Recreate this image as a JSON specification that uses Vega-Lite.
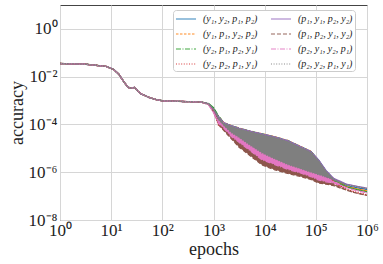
{
"$schema": "https://vega.github.io/schema/vega-lite/v6.json",
"width": 307, "height": 215,
"autosize": {"type": "none"},
"padding": {"left": 60, "top": 5, "right": 16, "bottom": 44},
"background": "white",
"config": {"view": {"stroke": "#444", "strokeWidth": 1}, "font": "Liberation Serif"},
"data": {"values": [
{"s":"a","x":1,"lo":0.0355,"hi":0.0355},{"s":"a","x":3.162,"lo":0.0331,"hi":0.0331},{"s":"a","x":7.943,"lo":0.0269,"hi":0.0269},{"s":"a","x":11.22,"lo":0.02,"hi":0.02},{"s":"a","x":14.13,"lo":0.0126,"hi":0.0126},{"s":"a","x":17.78,"lo":0.00603,"hi":0.00603},{"s":"a","x":21.38,"lo":0.00355,"hi":0.00355},{"s":"a","x":25.12,"lo":0.00331,"hi":0.00331},{"s":"a","x":28.84,"lo":0.00355,"hi":0.00355},{"s":"a","x":33.11,"lo":0.00251,"hi":0.00251},{"s":"a","x":38.02,"lo":0.00191,"hi":0.00191},{"s":"a","x":44.67,"lo":0.00166,"hi":0.00166},{"s":"a","x":56.23,"lo":0.00132,"hi":0.00132},{"s":"a","x":75.86,"lo":0.0011,"hi":0.0011},{"s":"a","x":100,"lo":0.000977,"hi":0.000977},{"s":"a","x":251.2,"lo":0.000912,"hi":0.000912},{"s":"a","x":562.3,"lo":0.000871,"hi":0.000871},
{"s":"a","x":794.3,"lo":7.24e-4,"hi":7.24e-4},{"s":"a","x":1000,"lo":4.68e-4,"hi":4.68e-4},{"s":"a","x":1259,"lo":1.58e-4,"hi":2.09e-4},{"s":"a","x":1585,"lo":8.91e-5,"hi":1.17e-4},{"s":"a","x":2239,"lo":4.47e-5,"hi":8.71e-5},{"s":"a","x":3162,"lo":2.82e-5,"hi":6.92e-5},{"s":"a","x":5012,"lo":1.41e-5,"hi":5.25e-5},{"s":"a","x":8913,"lo":6.31e-6,"hi":3.98e-5},{"s":"a","x":15849,"lo":3.55e-6,"hi":2.95e-5},{"s":"a","x":28184,"lo":2.09e-6,"hi":2.09e-5},{"s":"a","x":50119,"lo":1.41e-6,"hi":1.17e-5},{"s":"a","x":79433,"lo":1.0e-6,"hi":7.41e-6},{"s":"a","x":112202,"lo":7.94e-7,"hi":3.31e-6},{"s":"a","x":158489,"lo":6.31e-7,"hi":1.12e-6},{"s":"a","x":223872,"lo":4.57e-7,"hi":5.01e-7},{"s":"a","x":398107,"lo":2.75e-7,"hi":2.75e-7},{"s":"a","x":630957,"lo":2.24e-7,"hi":2.24e-7},{"s":"a","x":1000000,"lo":1.91e-7,"hi":1.91e-7},
{"s":"b","x":1,"lo":0.0355,"hi":0.0355},{"s":"b","x":3.162,"lo":0.0331,"hi":0.0331},{"s":"b","x":7.943,"lo":0.0269,"hi":0.0269},{"s":"b","x":11.22,"lo":0.02,"hi":0.02},{"s":"b","x":14.13,"lo":0.0126,"hi":0.0126},{"s":"b","x":17.78,"lo":0.00603,"hi":0.00603},{"s":"b","x":21.38,"lo":0.00355,"hi":0.00355},{"s":"b","x":25.12,"lo":0.00331,"hi":0.00331},{"s":"b","x":28.84,"lo":0.00355,"hi":0.00355},{"s":"b","x":33.11,"lo":0.00251,"hi":0.00251},{"s":"b","x":38.02,"lo":0.00191,"hi":0.00191},{"s":"b","x":44.67,"lo":0.00166,"hi":0.00166},{"s":"b","x":56.23,"lo":0.00132,"hi":0.00132},{"s":"b","x":75.86,"lo":0.0011,"hi":0.0011},{"s":"b","x":100,"lo":0.000977,"hi":0.000977},{"s":"b","x":251.2,"lo":0.000912,"hi":0.000912},{"s":"b","x":562.3,"lo":0.000871,"hi":0.000871},
{"s":"b","x":794.3,"lo":7.24e-4,"hi":7.24e-4},{"s":"b","x":1000,"lo":4.47e-4,"hi":4.47e-4},{"s":"b","x":1259,"lo":1.58e-4,"hi":2.14e-4},{"s":"b","x":1585,"lo":8.91e-5,"hi":1.2e-4},{"s":"b","x":2239,"lo":4.47e-5,"hi":8.91e-5},{"s":"b","x":3162,"lo":2.82e-5,"hi":7.08e-5},{"s":"b","x":5012,"lo":1.41e-5,"hi":5.37e-5},{"s":"b","x":8913,"lo":6.31e-6,"hi":4.07e-5},{"s":"b","x":15849,"lo":3.55e-6,"hi":3.02e-5},{"s":"b","x":28184,"lo":2.09e-6,"hi":2.14e-5},{"s":"b","x":50119,"lo":1.41e-6,"hi":1.2e-5},{"s":"b","x":79433,"lo":1.0e-6,"hi":7.59e-6},{"s":"b","x":112202,"lo":7.94e-7,"hi":3.16e-6},{"s":"b","x":158489,"lo":6.31e-7,"hi":1.05e-6},{"s":"b","x":223872,"lo":4.37e-7,"hi":4.79e-7},{"s":"b","x":398107,"lo":2.51e-7,"hi":2.51e-7},{"s":"b","x":630957,"lo":2.0e-7,"hi":2.0e-7},{"s":"b","x":1000000,"lo":1.66e-7,"hi":1.66e-7},
{"s":"c","x":1,"lo":0.0355,"hi":0.0355},{"s":"c","x":3.162,"lo":0.0331,"hi":0.0331},{"s":"c","x":7.943,"lo":0.0269,"hi":0.0269},{"s":"c","x":11.22,"lo":0.02,"hi":0.02},{"s":"c","x":14.13,"lo":0.0126,"hi":0.0126},{"s":"c","x":17.78,"lo":0.00603,"hi":0.00603},{"s":"c","x":21.38,"lo":0.00355,"hi":0.00355},{"s":"c","x":25.12,"lo":0.00331,"hi":0.00331},{"s":"c","x":28.84,"lo":0.00355,"hi":0.00355},{"s":"c","x":33.11,"lo":0.00251,"hi":0.00251},{"s":"c","x":38.02,"lo":0.00191,"hi":0.00191},{"s":"c","x":44.67,"lo":0.00166,"hi":0.00166},{"s":"c","x":56.23,"lo":0.00132,"hi":0.00132},{"s":"c","x":75.86,"lo":0.0011,"hi":0.0011},{"s":"c","x":100,"lo":0.000977,"hi":0.000977},{"s":"c","x":251.2,"lo":0.000912,"hi":0.000912},{"s":"c","x":562.3,"lo":0.000871,"hi":0.000871},
{"s":"c","x":794.3,"lo":7.59e-4,"hi":7.59e-4},{"s":"c","x":1000,"lo":5.01e-4,"hi":5.01e-4},{"s":"c","x":1259,"lo":1.58e-4,"hi":2.24e-4},{"s":"c","x":1585,"lo":8.91e-5,"hi":1.17e-4},{"s":"c","x":2239,"lo":4.47e-5,"hi":8.71e-5},{"s":"c","x":3162,"lo":2.82e-5,"hi":6.92e-5},{"s":"c","x":5012,"lo":1.41e-5,"hi":5.25e-5},{"s":"c","x":8913,"lo":6.31e-6,"hi":3.98e-5},{"s":"c","x":15849,"lo":3.55e-6,"hi":2.95e-5},{"s":"c","x":28184,"lo":2.09e-6,"hi":2.09e-5},{"s":"c","x":50119,"lo":1.41e-6,"hi":1.17e-5},{"s":"c","x":79433,"lo":1.0e-6,"hi":7.41e-6},{"s":"c","x":112202,"lo":7.59e-7,"hi":3.16e-6},{"s":"c","x":158489,"lo":6.03e-7,"hi":1.0e-6},{"s":"c","x":223872,"lo":4.17e-7,"hi":4.68e-7},{"s":"c","x":398107,"lo":2.4e-7,"hi":2.4e-7},{"s":"c","x":630957,"lo":1.86e-7,"hi":1.86e-7},{"s":"c","x":1000000,"lo":1.51e-7,"hi":1.51e-7},
{"s":"d","x":1,"lo":0.0355,"hi":0.0355},{"s":"d","x":3.162,"lo":0.0331,"hi":0.0331},{"s":"d","x":7.943,"lo":0.0269,"hi":0.0269},{"s":"d","x":11.22,"lo":0.02,"hi":0.02},{"s":"d","x":14.13,"lo":0.0126,"hi":0.0126},{"s":"d","x":17.78,"lo":0.00603,"hi":0.00603},{"s":"d","x":21.38,"lo":0.00355,"hi":0.00355},{"s":"d","x":25.12,"lo":0.00331,"hi":0.00331},{"s":"d","x":28.84,"lo":0.00355,"hi":0.00355},{"s":"d","x":33.11,"lo":0.00251,"hi":0.00251},{"s":"d","x":38.02,"lo":0.00191,"hi":0.00191},{"s":"d","x":44.67,"lo":0.00166,"hi":0.00166},{"s":"d","x":56.23,"lo":0.00132,"hi":0.00132},{"s":"d","x":75.86,"lo":0.0011,"hi":0.0011},{"s":"d","x":100,"lo":0.000977,"hi":0.000977},{"s":"d","x":251.2,"lo":0.000912,"hi":0.000912},{"s":"d","x":562.3,"lo":0.000871,"hi":0.000871},
{"s":"d","x":794.3,"lo":7.08e-4,"hi":7.08e-4},{"s":"d","x":1000,"lo":3.55e-4,"hi":3.55e-4},{"s":"d","x":1259,"lo":8.91e-5,"hi":1.91e-4},{"s":"d","x":1585,"lo":6.31e-5,"hi":1.12e-4},{"s":"d","x":2239,"lo":3.98e-5,"hi":7.94e-5},{"s":"d","x":3162,"lo":2.51e-5,"hi":6.31e-5},{"s":"d","x":5012,"lo":1.41e-5,"hi":4.79e-5},{"s":"d","x":8913,"lo":6.31e-6,"hi":3.72e-5},{"s":"d","x":15849,"lo":3.55e-6,"hi":2.75e-5},{"s":"d","x":28184,"lo":2.09e-6,"hi":1.95e-5},{"s":"d","x":50119,"lo":1.41e-6,"hi":1.1e-5},{"s":"d","x":79433,"lo":1.0e-6,"hi":6.92e-6},{"s":"d","x":112202,"lo":7.08e-7,"hi":2.82e-6},{"s":"d","x":158489,"lo":5.01e-7,"hi":8.91e-7},{"s":"d","x":223872,"lo":3.55e-7,"hi":3.98e-7},{"s":"d","x":398107,"lo":1.91e-7,"hi":1.91e-7},{"s":"d","x":630957,"lo":1.41e-7,"hi":1.41e-7},{"s":"d","x":1000000,"lo":1.12e-7,"hi":1.12e-7},
{"s":"e","x":1,"lo":0.0355,"hi":0.0355},{"s":"e","x":3.162,"lo":0.0331,"hi":0.0331},{"s":"e","x":7.943,"lo":0.0269,"hi":0.0269},{"s":"e","x":11.22,"lo":0.02,"hi":0.02},{"s":"e","x":14.13,"lo":0.0126,"hi":0.0126},{"s":"e","x":17.78,"lo":0.00603,"hi":0.00603},{"s":"e","x":21.38,"lo":0.00355,"hi":0.00355},{"s":"e","x":25.12,"lo":0.00331,"hi":0.00331},{"s":"e","x":28.84,"lo":0.00355,"hi":0.00355},{"s":"e","x":33.11,"lo":0.00251,"hi":0.00251},{"s":"e","x":38.02,"lo":0.00191,"hi":0.00191},{"s":"e","x":44.67,"lo":0.00166,"hi":0.00166},{"s":"e","x":56.23,"lo":0.00132,"hi":0.00132},{"s":"e","x":75.86,"lo":0.0011,"hi":0.0011},{"s":"e","x":100,"lo":0.000977,"hi":0.000977},{"s":"e","x":251.2,"lo":0.000912,"hi":0.000912},{"s":"e","x":562.3,"lo":0.000871,"hi":0.000871},
{"s":"e","x":794.3,"lo":7.41e-4,"hi":7.41e-4},{"s":"e","x":1000,"lo":4.17e-4,"hi":4.17e-4},{"s":"e","x":1259,"lo":1.58e-4,"hi":2.04e-4},{"s":"e","x":1585,"lo":8.91e-5,"hi":1.17e-4},{"s":"e","x":2239,"lo":4.47e-5,"hi":8.71e-5},{"s":"e","x":3162,"lo":2.82e-5,"hi":6.92e-5},{"s":"e","x":5012,"lo":1.41e-5,"hi":5.25e-5},{"s":"e","x":8913,"lo":6.31e-6,"hi":3.98e-5},{"s":"e","x":15849,"lo":3.55e-6,"hi":2.95e-5},{"s":"e","x":28184,"lo":2.09e-6,"hi":2.09e-5},{"s":"e","x":50119,"lo":1.41e-6,"hi":1.17e-5},{"s":"e","x":79433,"lo":1.0e-6,"hi":7.41e-6},{"s":"e","x":112202,"lo":7.94e-7,"hi":3.31e-6},{"s":"e","x":158489,"lo":6.31e-7,"hi":1.17e-6},{"s":"e","x":223872,"lo":5.01e-7,"hi":5.5e-7},{"s":"e","x":398107,"lo":3.16e-7,"hi":3.16e-7},{"s":"e","x":630957,"lo":2.57e-7,"hi":2.57e-7},{"s":"e","x":1000000,"lo":2.14e-7,"hi":2.14e-7},
{"s":"f","x":1,"lo":0.0355,"hi":0.0355},{"s":"f","x":3.162,"lo":0.0331,"hi":0.0331},{"s":"f","x":7.943,"lo":0.0269,"hi":0.0269},{"s":"f","x":11.22,"lo":0.02,"hi":0.02},{"s":"f","x":14.13,"lo":0.0126,"hi":0.0126},{"s":"f","x":17.78,"lo":0.00603,"hi":0.00603},{"s":"f","x":21.38,"lo":0.00355,"hi":0.00355},{"s":"f","x":25.12,"lo":0.00331,"hi":0.00331},{"s":"f","x":28.84,"lo":0.00355,"hi":0.00355},{"s":"f","x":33.11,"lo":0.00251,"hi":0.00251},{"s":"f","x":38.02,"lo":0.00191,"hi":0.00191},{"s":"f","x":44.67,"lo":0.00166,"hi":0.00166},{"s":"f","x":56.23,"lo":0.00132,"hi":0.00132},{"s":"f","x":75.86,"lo":0.0011,"hi":0.0011},{"s":"f","x":100,"lo":0.000977,"hi":0.000977},{"s":"f","x":251.2,"lo":0.000912,"hi":0.000912},{"s":"f","x":562.3,"lo":0.000871,"hi":0.000871},
{"s":"f","x":794.3,"lo":6.92e-4,"hi":6.92e-4},{"s":"f","x":1000,"lo":3.55e-4,"hi":3.55e-4},{"s":"f","x":1259,"lo":1.0e-4,"hi":1.41e-4},{"s":"f","x":1585,"lo":5.62e-5,"hi":7.94e-5},{"s":"f","x":2239,"lo":2.51e-5,"hi":3.98e-5},{"s":"f","x":3162,"lo":1.12e-5,"hi":2.24e-5},{"s":"f","x":5012,"lo":5.25e-6,"hi":1.12e-5},{"s":"f","x":8913,"lo":2.0e-6,"hi":4.47e-6},{"s":"f","x":15849,"lo":1.26e-6,"hi":2.51e-6},{"s":"f","x":28184,"lo":8.91e-7,"hi":1.58e-6},{"s":"f","x":50119,"lo":6.61e-7,"hi":1.05e-6},{"s":"f","x":79433,"lo":5.01e-7,"hi":7.94e-7},{"s":"f","x":112202,"lo":3.55e-7,"hi":5.62e-7},{"s":"f","x":158489,"lo":3.16e-7,"hi":4.47e-7},{"s":"f","x":223872,"lo":2.75e-7,"hi":3.16e-7},{"s":"f","x":398107,"lo":1.78e-7,"hi":1.78e-7},{"s":"f","x":630957,"lo":1.32e-7,"hi":1.32e-7},{"s":"f","x":1000000,"lo":1.07e-7,"hi":1.07e-7},
{"s":"g","x":1,"lo":0.0355,"hi":0.0355},{"s":"g","x":3.162,"lo":0.0331,"hi":0.0331},{"s":"g","x":7.943,"lo":0.0269,"hi":0.0269},{"s":"g","x":11.22,"lo":0.02,"hi":0.02},{"s":"g","x":14.13,"lo":0.0126,"hi":0.0126},{"s":"g","x":17.78,"lo":0.00603,"hi":0.00603},{"s":"g","x":21.38,"lo":0.00355,"hi":0.00355},{"s":"g","x":25.12,"lo":0.00331,"hi":0.00331},{"s":"g","x":28.84,"lo":0.00355,"hi":0.00355},{"s":"g","x":33.11,"lo":0.00251,"hi":0.00251},{"s":"g","x":38.02,"lo":0.00191,"hi":0.00191},{"s":"g","x":44.67,"lo":0.00166,"hi":0.00166},{"s":"g","x":56.23,"lo":0.00132,"hi":0.00132},{"s":"g","x":75.86,"lo":0.0011,"hi":0.0011},{"s":"g","x":100,"lo":0.000977,"hi":0.000977},{"s":"g","x":251.2,"lo":0.000912,"hi":0.000912},{"s":"g","x":562.3,"lo":0.000871,"hi":0.000871},
{"s":"g","x":794.3,"lo":6.92e-4,"hi":6.92e-4},{"s":"g","x":1000,"lo":3.16e-4,"hi":3.16e-4},{"s":"g","x":1259,"lo":1.12e-4,"hi":1.41e-4},{"s":"g","x":1585,"lo":7.08e-5,"hi":1.12e-4},{"s":"g","x":2239,"lo":3.16e-5,"hi":5.01e-5},{"s":"g","x":3162,"lo":1.78e-5,"hi":3.16e-5},{"s":"g","x":5012,"lo":8.51e-6,"hi":1.58e-5},{"s":"g","x":8913,"lo":3.31e-6,"hi":6.61e-6},{"s":"g","x":15849,"lo":2.09e-6,"hi":3.8e-6},{"s":"g","x":28184,"lo":1.32e-6,"hi":2.24e-6},{"s":"g","x":50119,"lo":9.33e-7,"hi":1.48e-6},{"s":"g","x":79433,"lo":6.61e-7,"hi":1.05e-6},{"s":"g","x":112202,"lo":4.79e-7,"hi":7.94e-7},{"s":"g","x":158489,"lo":3.98e-7,"hi":6.03e-7},{"s":"g","x":223872,"lo":3.55e-7,"hi":4.17e-7},{"s":"g","x":398107,"lo":2.24e-7,"hi":2.24e-7},{"s":"g","x":630957,"lo":1.7e-7,"hi":1.7e-7},{"s":"g","x":1000000,"lo":1.38e-7,"hi":1.38e-7},
{"s":"h","x":1,"lo":0.0355,"hi":0.0355},{"s":"h","x":3.162,"lo":0.0331,"hi":0.0331},{"s":"h","x":7.943,"lo":0.0269,"hi":0.0269},{"s":"h","x":11.22,"lo":0.02,"hi":0.02},{"s":"h","x":14.13,"lo":0.0126,"hi":0.0126},{"s":"h","x":17.78,"lo":0.00603,"hi":0.00603},{"s":"h","x":21.38,"lo":0.00355,"hi":0.00355},{"s":"h","x":25.12,"lo":0.00331,"hi":0.00331},{"s":"h","x":28.84,"lo":0.00355,"hi":0.00355},{"s":"h","x":33.11,"lo":0.00251,"hi":0.00251},{"s":"h","x":38.02,"lo":0.00191,"hi":0.00191},{"s":"h","x":44.67,"lo":0.00166,"hi":0.00166},{"s":"h","x":56.23,"lo":0.00132,"hi":0.00132},{"s":"h","x":75.86,"lo":0.0011,"hi":0.0011},{"s":"h","x":100,"lo":0.000977,"hi":0.000977},{"s":"h","x":251.2,"lo":0.000912,"hi":0.000912},{"s":"h","x":562.3,"lo":0.000871,"hi":0.000871},
{"s":"h","x":794.3,"lo":7.24e-4,"hi":7.24e-4},{"s":"h","x":1000,"lo":4.37e-4,"hi":4.37e-4},{"s":"h","x":1259,"lo":1.58e-4,"hi":2.0e-4},{"s":"h","x":1585,"lo":8.91e-5,"hi":1.12e-4},{"s":"h","x":2239,"lo":4.47e-5,"hi":8.32e-5},{"s":"h","x":3162,"lo":2.82e-5,"hi":6.61e-5},{"s":"h","x":5012,"lo":1.41e-5,"hi":5.01e-5},{"s":"h","x":8913,"lo":6.31e-6,"hi":3.8e-5},{"s":"h","x":15849,"lo":3.55e-6,"hi":2.82e-5},{"s":"h","x":28184,"lo":2.09e-6,"hi":2.0e-5},{"s":"h","x":50119,"lo":1.41e-6,"hi":1.12e-5},{"s":"h","x":79433,"lo":1.0e-6,"hi":7.08e-6},{"s":"h","x":112202,"lo":7.94e-7,"hi":3.16e-6},{"s":"h","x":158489,"lo":6.31e-7,"hi":1.12e-6},{"s":"h","x":223872,"lo":4.79e-7,"hi":5.25e-7},{"s":"h","x":398107,"lo":3.02e-7,"hi":3.02e-7},{"s":"h","x":630957,"lo":2.51e-7,"hi":2.51e-7},{"s":"h","x":1000000,"lo":2.09e-7,"hi":2.09e-7}
]},
"encoding": {
  "x": {"field": "x", "type": "quantitative",
    "scale": {"type": "log", "domain": [1, 1000000], "nice": false},
    "axis": {"values": [1, 10, 100, 1000, 10000, 100000, 1000000],
      "labelExpr": "'10' + ['⁰','¹','²','³','⁴','⁵','⁶'][round(log(datum.value)/LN10)]",
      "title": "epochs", "grid": true, "gridColor": "#d6d6d6", "ticks": false, "domain": false,
      "labelOverlap": false, "labelFlush": false,
      "labelFont": "Liberation Serif", "labelFontSize": 17, "labelPadding": 2, "labelColor": "#222",
      "titleFont": "Liberation Serif", "titleFontSize": 18, "titleFontWeight": "normal", "titlePadding": 2, "titleColor": "#222"}},
  "y": {"field": "hi", "type": "quantitative",
    "scale": {"type": "log", "domain": [1e-8, 10], "nice": false},
    "axis": {"values": [1e-8, 1e-6, 1e-4, 1e-2, 1],
      "labelExpr": "'10' + (datum.value < 0.5 ? '⁻' : '') + ['⁰','¹','²','³','⁴','⁵','⁶','⁷','⁸'][abs(round(log(datum.value)/LN10))]",
      "title": "accuracy", "grid": true, "gridColor": "#d6d6d6", "ticks": false, "domain": false,
      "labelOverlap": false, "labelFlush": false,
      "labelFont": "Liberation Serif", "labelFontSize": 17, "labelPadding": 3, "labelColor": "#222",
      "titleFont": "Liberation Serif", "titleFontSize": 18, "titleFontWeight": "normal", "titlePadding": 2, "titleColor": "#222"}}
},
"layer": [
  {"mark": {"type": "area", "opacity": 1, "strokeWidth": 1.3,
     "strokeDash": {"expr": "datum.s=='b'?[2.5,1.5]:(datum.s=='c'||datum.s=='g')?[5,1.5,1,1.5]:(datum.s=='d'||datum.s=='h')?[1,1.6]:datum.s=='f'?[4,2]:[1,0]"}},
   "encoding": {
     "y2": {"field": "lo"},
     "fill": {"field": "s", "type": "nominal", "legend": null,
       "scale": {"domain": ["h","g","f","e","d","c","b","a"], "range": ["#7f7f7f","#e377c2","#8c564b","#9467bd","#d62728","#2ca02c","#ff7f0e","#1f77b4"]}},
     "stroke": {"field": "s", "type": "nominal", "legend": null,
       "scale": {"domain": ["h","g","f","e","d","c","b","a"], "range": ["#7f7f7f","#e377c2","#8c564b","#9467bd","#d62728","#2ca02c","#ff7f0e","#1f77b4"]}}
   }},
  {"mark": {"type": "line", "strokeOpacity": 0, "strokeWidth": 1.5},
   "encoding": {
     "color": {"field": "s", "type": "nominal",
       "scale": {"domain": ["a","b","c","d","e","f","g","h"], "range": ["#1f77b4","#ff7f0e","#2ca02c","#d62728","#9467bd","#8c564b","#e377c2","#7f7f7f"]},
       "legend": {"title": null, "orient": "none", "legendX": 113, "legendY": 5, "direction": "vertical", "columns": 2,
         "columnPadding": 8, "rowPadding": 3, "symbolType": "M-1.67,0H1.67", "symbolSize": 144, "symbolStrokeWidth": 2,
         "symbolOffset": 4, "symbolOpacity": 0.45, "labelFont": "Liberation Serif", "labelFontStyle": "italic", "labelFontSize": 10,
         "labelOffset": 10, "labelColor": "#222", "padding": 2, "fillColor": "white", "strokeColor": "#cccccc", "cornerRadius": 3,
         "labelExpr": "datum.label=='a'?'(y₁, y₂, p₁, p₂)':datum.label=='b'?'(y₁, p₁, y₂, p₂)':datum.label=='c'?'(y₂, p₁, p₂, y₁)':datum.label=='d'?'(y₂, p₂, p₁, y₁)':datum.label=='e'?'(p₁, y₁, p₂, y₂)':datum.label=='f'?'(p₁, p₂, y₁, y₂)':datum.label=='g'?'(p₂, y₁, y₂, p₁)':'(p₂, y₂, p₁, y₁)'"}},
     "strokeDash": {"field": "s", "type": "nominal",
       "scale": {"domain": ["a","b","c","d","e","f","g","h"], "range": [[1,0],[2.5,1.5],[5,1.5,1,1.5],[1,1.6],[1,0],[4,2],[5,1.5,1,1.5],[1,1.6]]}}
   }}
]
}
